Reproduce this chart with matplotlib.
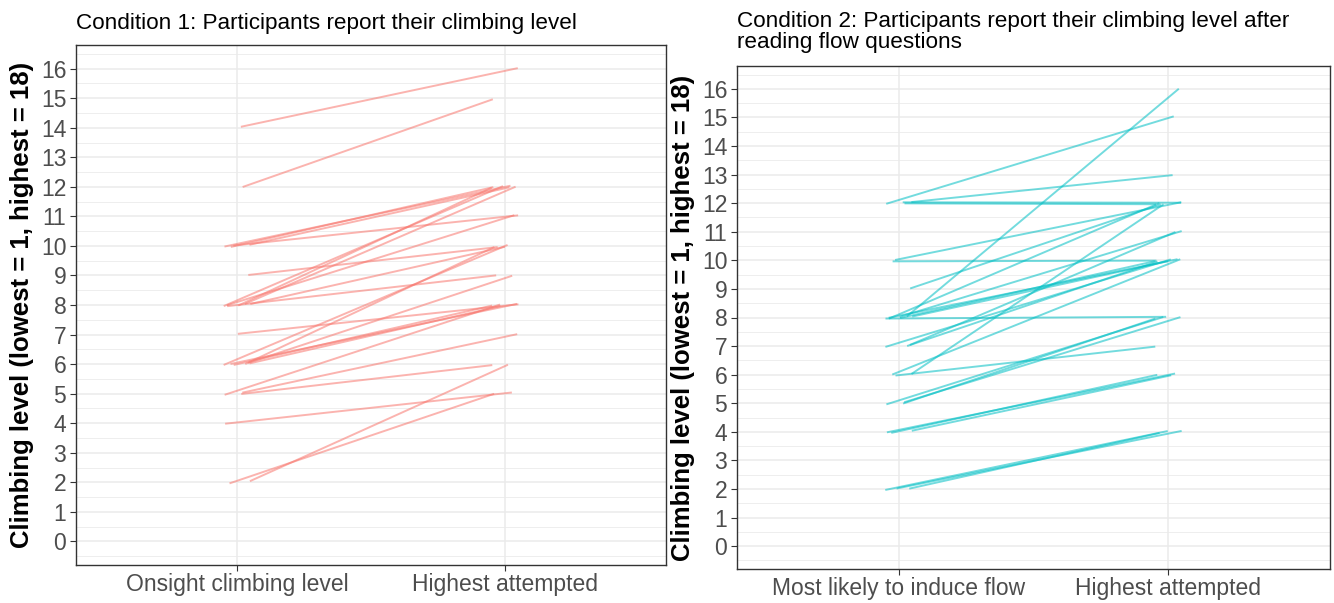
import numpy as np
import matplotlib.pyplot as plt

plt.rcParams['font.family'] = ['Liberation Sans', 'DejaVu Sans']

# Condition 1: self-reported onsight level vs. highest attempted
cond1_onsight = [14, 12, 10, 10, 10, 10, 9, 8, 8, 8, 8, 8, 8, 7,
                 6, 6, 6, 6, 6, 6, 5, 5, 5, 4, 2, 2]
cond1_highest = [16, 15, 12, 12, 12, 11, 10, 12, 12, 12, 11, 10, 9, 8,
                 10, 10, 9, 8, 8, 8, 8, 7, 6, 5, 6, 5]

# Condition 2: level most likely to induce flow vs. highest attempted
cond2_flow = [12, 12, 12, 12, 10, 10, 9, 8, 8, 8, 8, 8, 8, 8,
              7, 7, 7, 6, 6, 6, 5, 5, 5, 4, 4, 4, 2, 2, 2]
cond2_highest = [12, 12, 15, 13, 10, 12, 12, 8, 16, 10, 10, 10, 12, 11,
                 10, 10, 11, 7, 10, 12, 8, 8, 8, 6, 6, 6, 4, 4, 4]

cond1_labels = ['Onsight climbing level', 'Highest attempted']
cond2_labels = ['Most likely to induce flow', 'Highest attempted']

y_breaks = list(range(0, 17))
y_title = 'Climbing level (lowest = 1, highest = 18)'
title1 = 'Condition 1: Participants report their climbing level'
title2 = ('Condition 2: Participants report their climbing level after\n'
          'reading flow questions')

RED = '#F8766D'
CYAN = '#00BFC4'


def spread(n, phase, amp):
    """Deterministic small offsets used to jitter overlapping segments."""
    k = np.arange(n)
    return amp * np.sin(k * 2.399 + phase)


def draw_panel(ax, start, end, labels, color):
    n = len(start)
    dx0 = spread(n, 0.3, 0.05)
    dx1 = spread(n, 1.9, 0.05)
    dy0 = spread(n, 0.9, 0.04)
    dy1 = spread(n, 2.7, 0.04)
    for i in range(n):
        ax.plot([1 + dx0[i], 2 + dx1[i]],
                [start[i] + dy0[i], end[i] + dy1[i]],
                color=color, alpha=0.55, lw=1.4,
                solid_capstyle='butt', zorder=3)

    ax.set_xlim(0.4, 2.6)
    ax.set_ylim(-0.8, 16.8)
    ax.set_xticks([1, 2])
    ax.set_xticklabels(labels)
    ax.set_yticks(y_breaks)
    ax.set_yticks([v + 0.5 for v in y_breaks[:-1]] + [-0.5, 16.5], minor=True)
    ax.set_xticks([], minor=True)

    ax.grid(True, which='major', color='#EBEBEB', lw=1.1, zorder=0)
    ax.grid(True, which='minor', axis='y', color='#EBEBEB', lw=0.6, zorder=0)
    ax.set_axisbelow(True)

    for s in ax.spines.values():
        s.set_color('#333333')
        s.set_linewidth(1.0)
    ax.tick_params(axis='both', which='major', length=4, width=0.8,
                   color='#333333', labelcolor='#4D4D4D', labelsize=16.5)
    ax.tick_params(axis='y', which='minor', length=0)
    ax.tick_params(axis='x', pad=2)
    ax.tick_params(axis='y', pad=3)
    ax.set_ylabel(y_title, fontsize=18.5, fontweight='bold', color='black',
                  labelpad=5)


fig = plt.figure(figsize=(13.34, 6.03), dpi=100)
W, H = 1334, 603
ax1 = fig.add_axes([76 / W, 1 - 565 / H, 590 / W, 520 / H])
ax2 = fig.add_axes([737 / W, 1 - 569 / H, 593 / W, 503 / H])

draw_panel(ax1, cond1_onsight, cond1_highest, cond1_labels, RED)
draw_panel(ax2, cond2_flow, cond2_highest, cond2_labels, CYAN)

fig.text(76 / W, 1 - 23 / H, title1, fontsize=16.2, ha='left', va='center')
fig.text(737 / W, 1 - 32 / H, title2, fontsize=16.2, ha='left', va='center',
         linespacing=1.05)

fig.savefig('out.png', dpi=100)
